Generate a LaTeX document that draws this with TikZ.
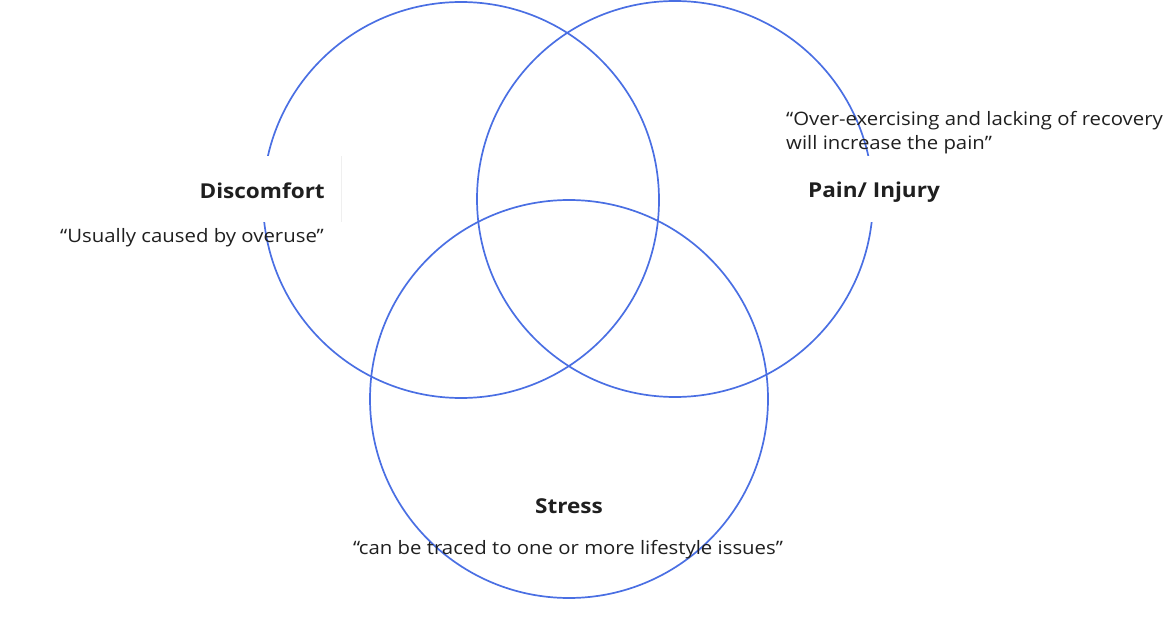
\documentclass[tikz,border=0pt]{standalone}
\usepackage{fontspec}
\setmainfont{Open Sans}[FakeStretch=1.1]
\definecolor{ring}{HTML}{4A6FE3}
\definecolor{ink}{HTML}{1F1F1F}
\definecolor{edge}{HTML}{EFEFEF}
\begin{document}
\begin{tikzpicture}[x=1pt,y=-1pt,
  ring/.style={draw=ring,line width=1.7pt},
  cover/.style={fill=white},
  title/.style={font=\fontsize{20.5}{24}\selectfont\bfseries,text=ink,inner sep=0pt},
  quote/.style={font=\fontsize{18.5}{24}\selectfont,text=ink,inner sep=0pt,align=left}]
\useasboundingbox (0,0) rectangle (1175,620);
% circles
\draw[ring] (461,200) circle[radius=198];
\draw[ring] (675,199) circle[radius=198];
\draw[ring] (569,399) circle[radius=199];
% white boxes behind titles
\path[cover] (190,156) rectangle (341,222);
\draw[edge,line width=0.8pt] (341,156) -- (341,222);
\path[cover] (788,156) rectangle (955,222);
% texts
\node[title,anchor=east] (discomfort) at (325,191) {Discomfort};
\node[quote,anchor=west] (qdisc) at (60,238) {“Usually caused by overuse”};
\node[title,anchor=west] (pain) at (808,192) {Pain/ Injury};
\node[quote,anchor=north west] (qpain) at (786,111) {“Over-exercising and lacking of recovery\\will increase the pain”};
\node[title] (stress) at (569,506) {Stress};
\node[quote] (qstress) at (568,550) {“can be traced to one or more lifestyle issues”};
\end{tikzpicture}
\end{document}
